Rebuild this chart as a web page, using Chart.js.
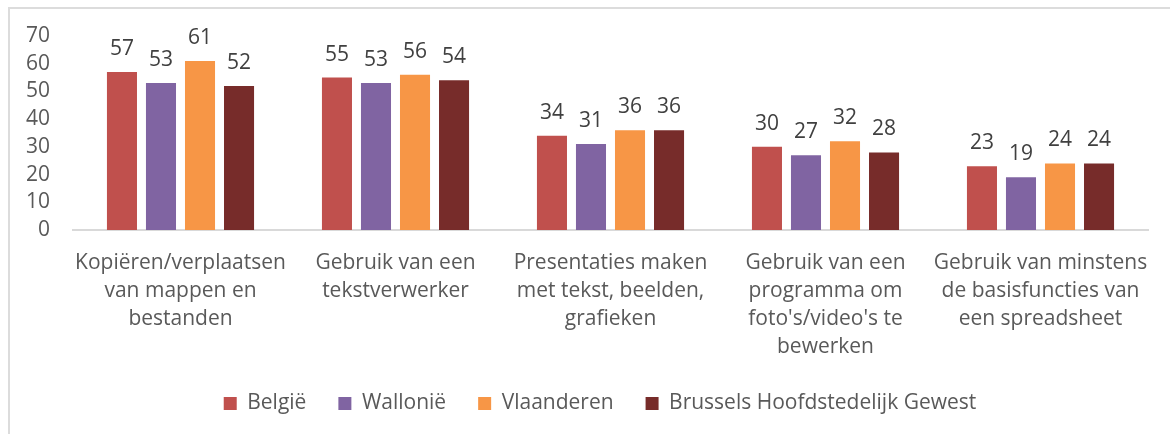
<!DOCTYPE html>
<html>
<head>
<meta charset="utf-8">
<script src="https://cdn.jsdelivr.net/npm/chart.js@4.4.1/dist/chart.umd.min.js"></script>
<style>
  html, body { margin: 0; padding: 0; background: #ffffff; }
  #wrap { position: absolute; left: 0; top: 0; width: 1170px; height: 434px; }
</style>
</head>
<body>
<div id="wrap"><canvas id="c" width="1170" height="434"></canvas></div>
<script>
const categories = [
  ["Kopiëren/verplaatsen", "van mappen en", "bestanden"],
  ["Gebruik van een", "tekstverwerker"],
  ["Presentaties maken", "met tekst, beelden,", "grafieken"],
  ["Gebruik van een", "programma om", "foto's/video's te", "bewerken"],
  ["Gebruik van minstens", "de basisfuncties van", "een spreadsheet"]
];
const seriesNames = ["België", "Wallonië", "Vlaanderen", "Brussels Hoofdstedelijk Gewest"];
const belgie     = [57, 55, 34, 30, 23];
const wallonie   = [53, 53, 31, 27, 19];
const vlaanderen = [61, 56, 36, 32, 24];
const brussel    = [52, 54, 36, 28, 24];
const yTicks = [0, 10, 20, 30, 40, 50, 60, 70];

const colors = ["#C0504D", "#8064A2", "#F79646", "#772C2A"];
const FONT = "'Open Sans', 'Liberation Sans', sans-serif";

const frame = {
  id: 'frame',
  beforeDraw(chart) {
    const ctx = chart.ctx;
    ctx.save();
    ctx.fillStyle = '#ffffff';
    ctx.fillRect(0, 0, chart.width, chart.height);
    ctx.strokeStyle = '#dcdcdc';
    ctx.lineWidth = 2;
    ctx.beginPath();
    ctx.moveTo(9, chart.height);
    ctx.lineTo(9, 8);
    ctx.lineTo(chart.width, 8);
    ctx.stroke();
    ctx.restore();
  }
};

const legendShift = {
  id: 'legendShift',
  afterLayout(chart) {
    const lg = chart.legend;
    if (lg) { lg.left += 26; lg.right += 26; }
  }
};

const valueLabels = {
  id: 'valueLabels',
  afterDatasetsDraw(chart) {
    const ctx = chart.ctx;
    ctx.save();
    ctx.font = "21px " + FONT;
    ctx.fillStyle = '#404040';
    ctx.textAlign = 'center';
    ctx.textBaseline = 'alphabetic';
    chart.data.datasets.forEach((ds, di) => {
      const meta = chart.getDatasetMeta(di);
      meta.data.forEach((el, i) => {
        ctx.fillText(String(ds.data[i]), el.x, el.y - 17);
      });
    });
    ctx.restore();
  }
};

new Chart(document.getElementById('c'), {
  type: 'bar',
  data: {
    labels: categories,
    datasets: [
      { label: seriesNames[0], data: belgie, backgroundColor: colors[0] },
      { label: seriesNames[1], data: wallonie, backgroundColor: colors[1] },
      { label: seriesNames[2], data: vlaanderen, backgroundColor: colors[2] },
      { label: seriesNames[3], data: brussel, backgroundColor: colors[3] }
    ]
  },
  options: {
    responsive: false,
    animation: false,
    devicePixelRatio: 1,
    datasets: { bar: { categoryPercentage: 0.726, barPercentage: 0.77 } },
    layout: { padding: { left: 0, right: 22, top: 36, bottom: 10 } },
    scales: {
      x: {
        grid: { display: false, drawTicks: false },
        border: { display: true, color: '#d9d9d9', width: 2 },
        ticks: {
          color: '#595959',
          font: { family: FONT, size: 21, lineHeight: 1.333 },
          padding: 19,
          maxRotation: 0,
          autoSkip: false
        },
        afterFit(scale) { scale.height = 131; }
      },
      y: {
        min: 0,
        max: 70,
        afterBuildTicks(scale) { scale.ticks = yTicks.map(v => ({ value: v })); },
        grid: { display: false, drawTicks: false },
        border: { display: false },
        ticks: {
          color: '#595959',
          font: { family: FONT, size: 21 },
          padding: 23,
          autoSkip: false
        },
        afterFit(scale) { scale.width = 73; }
      }
    },
    plugins: {
      legend: {
        position: 'bottom',
        labels: {
          boxWidth: 13,
          boxHeight: 13,
          padding: 32,
          color: '#595959',
          font: { family: FONT, size: 21 }
        }
      },
      tooltip: { enabled: false }
    }
  },
  plugins: [frame, legendShift, valueLabels]
});
</script>
</body>
</html>
